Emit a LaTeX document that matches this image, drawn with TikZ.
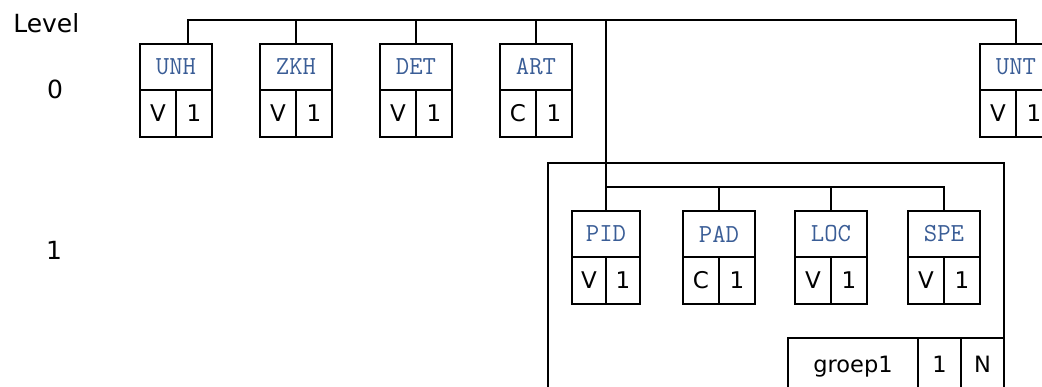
\documentclass[tikz,border=0pt]{standalone}
\usepackage{fontspec}
\setmainfont{DejaVu Sans}
\usepackage{xcolor}
\definecolor{keyblue}{RGB}{58,93,150}

\begin{document}
\begin{tikzpicture}[x=1pt,y=-1pt,line width=1.9pt,
  hdr/.style={draw,inner sep=0pt,outer sep=0pt,anchor=north west,minimum height=46pt,
    text=keyblue,font=\fontsize{26}{26}\ttfamily},
  cell/.style={draw,inner sep=0pt,outer sep=0pt,anchor=north west,minimum height=47pt,
    font=\fontsize{23}{23}\selectfont},
  lvl/.style={font=\fontsize{25}{25}\selectfont}]
\clip (0,0) rectangle (1042,387);

% level labels
\node[lvl,anchor=base west] (lvl) at (9,33) {Level};
\node[lvl] (lvl0) at (55,89) {0};
\node[lvl] (lvl1) at (54,250) {1};

% records: name/label/x/y/width/type/card
\foreach \n/\lab/\x/\y/\w/\t/\c in {unh/UNH/140/44/72/V/1,zkh/ZKH/260/44/72/V/1,
    det/DET/380/44/72/V/1,art/ART/500/44/72/C/1,unt/UNT/980/44/72/V/1,
    pid/PID/572/211/68/V/1,pad/PAD/683/211/72/C/1,loc/LOC/795/211/72/V/1,
    spe/SPE/908/211/72/V/1}{
  \node[hdr,minimum width=\w] (\n-h) at (\x,\y) {\lab};
  \node[cell,minimum width=\w/2] (\n-t) at (\n-h.south west) {\t};
  \node[cell,minimum width=\w/2] (\n-c) at (\n-t.north east) {\c};
}

% group frame
\coordinate (gl) at (548,387);\coordinate (gt) at (1004,163);
\draw (gl) |- (gt) -- (gt |- gl);
\node[cell,minimum width=130,minimum height=80] (grp) at (788,338) {};
\node[cell,minimum width=43,minimum height=80] (grp-min) at (grp.north east) {};
\node[cell,minimum width=43,minimum height=80] (grp-max) at (grp-min.north east) {};
\node[font=\fontsize{22.5}{22.5}\selectfont,anchor=base] (grp-l) at ([yshift=-35pt]grp.north) {groep1};
\node[font=\fontsize{22.5}{22.5}\selectfont,anchor=base] (grp-min-l) at ([yshift=-35pt]grp-min.north) {1};
\node[font=\fontsize{22.5}{22.5}\selectfont,anchor=base] (grp-max-l) at ([yshift=-35pt]grp-max.north) {N};

% level 0 bus
\coordinate (top) at (606,20);
\draw ([xshift=12pt]unh-h.north) |- (top) -| (unt-h.north);
\foreach \n in {zkh,det,art}
  \draw (\n-h.north) -- (\n-h.north |- top);
\draw (top) -- (pid-h.north);

% level 1 bus
\coordinate (sub) at (606,187);
\draw (sub) -| (spe-h.north);
\foreach \n in {pad,loc}
  \draw (\n-h.north) -- (\n-h.north |- sub);
\end{tikzpicture}
\end{document}
